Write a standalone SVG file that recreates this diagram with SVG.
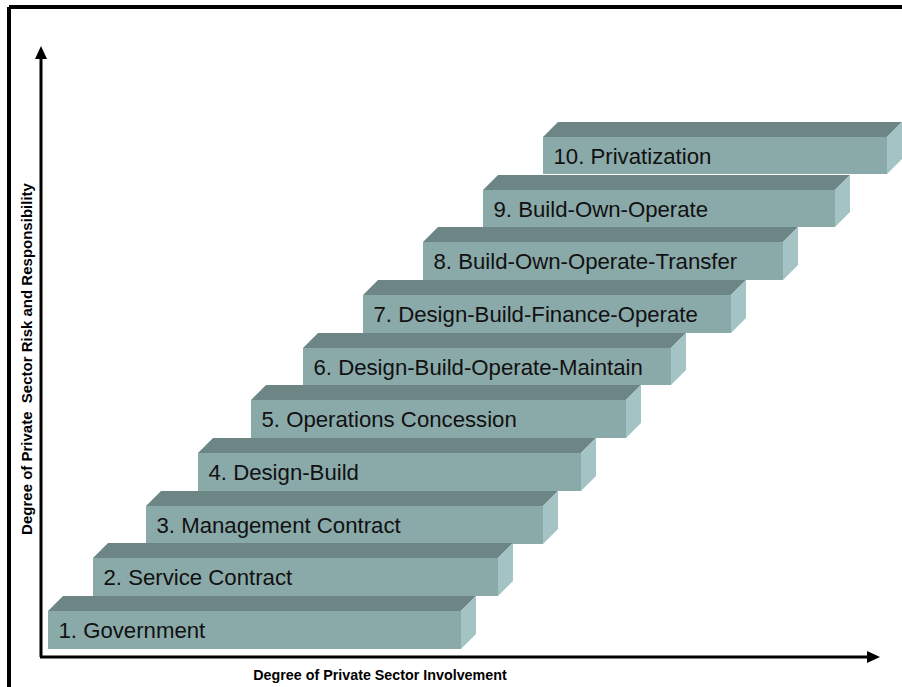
<svg xmlns="http://www.w3.org/2000/svg" width="902" height="687" viewBox="0 0 902 687">
<style>
.front{fill:#8AA9A9}
.top{fill:#6E8586}
.side{fill:#A3C3C5}
.lbl{font-family:"Liberation Sans",Arial,sans-serif;font-size:22.2px;fill:#111}
.ax{font-family:"Liberation Sans",Arial,sans-serif;font-weight:bold;fill:#000}
.axis{stroke:#000;stroke-width:3;fill:none}
</style>
<rect width="902" height="687" fill="#fff"/>
<g id="frame">
<path d="M9,7 H904 M9,7 V690" stroke="#000" stroke-width="4" fill="none"/>
</g>
<g id="connectors">
<line class="axis" x1="41" y1="657" x2="41" y2="57"/>
<polygon points="41,46 35,59 47,59" fill="#000"/>
<line class="axis" x1="40" y1="657" x2="869" y2="657"/>
<polygon points="880,657 867,651 867,663" fill="#000"/>
</g>
<g id="step10">
<polygon class="top" points="543,137 558,122 902,122 887,137"/>
<polygon class="side" points="887,137 902,122 902,159 887,174"/>
<rect class="front" x="543" y="137" width="344" height="37"/>
<text class="lbl" x="553.5" y="164">10. Privatization</text>
</g>
<g id="step9">
<polygon class="top" points="483,190 498,175 850,175 835,190"/>
<polygon class="side" points="835,190 850,175 850,212 835,227"/>
<rect class="front" x="483" y="190" width="352" height="37"/>
<text class="lbl" x="493.5" y="217">9. Build-Own-Operate</text>
</g>
<g id="step8">
<polygon class="top" points="423,242 438,227 798,227 783,242"/>
<polygon class="side" points="783,242 798,227 798,265 783,280"/>
<rect class="front" x="423" y="242" width="360" height="38"/>
<text class="lbl" x="433.5" y="269">8. Build-Own-Operate-Transfer</text>
</g>
<g id="step7">
<polygon class="top" points="363,295 378,280 746,280 731,295"/>
<polygon class="side" points="731,295 746,280 746,318 731,333"/>
<rect class="front" x="363" y="295" width="368" height="38"/>
<text class="lbl" x="373.5" y="322">7. Design-Build-Finance-Operate</text>
</g>
<g id="step6">
<polygon class="top" points="303,348 318,333 686,333 671,348"/>
<polygon class="side" points="671,348 686,333 686,370 671,385"/>
<rect class="front" x="303" y="348" width="368" height="37"/>
<text class="lbl" x="313.5" y="375">6. Design-Build-Operate-Maintain</text>
</g>
<g id="step5">
<polygon class="top" points="251,400 266,385 641,385 626,400"/>
<polygon class="side" points="626,400 641,385 641,423 626,438"/>
<rect class="front" x="251" y="400" width="375" height="38"/>
<text class="lbl" x="261.5" y="427">5. Operations Concession</text>
</g>
<g id="step4">
<polygon class="top" points="198,453 213,438 596,438 581,453"/>
<polygon class="side" points="581,453 596,438 596,476 581,491"/>
<rect class="front" x="198" y="453" width="383" height="38"/>
<text class="lbl" x="208.5" y="480">4. Design-Build</text>
</g>
<g id="step3">
<polygon class="top" points="146,506 161,491 558,491 543,506"/>
<polygon class="side" points="543,506 558,491 558,529 543,544"/>
<rect class="front" x="146" y="506" width="397" height="38"/>
<text class="lbl" x="156.5" y="533">3. Management Contract</text>
</g>
<g id="step2">
<polygon class="top" points="93,558 108,543 513,543 498,558"/>
<polygon class="side" points="498,558 513,543 513,581 498,596"/>
<rect class="front" x="93" y="558" width="405" height="38"/>
<text class="lbl" x="103.5" y="585">2. Service Contract</text>
</g>
<g id="step1">
<polygon class="top" points="48,611 63,596 476,596 461,611"/>
<polygon class="side" points="461,611 476,596 476,634 461,649"/>
<rect class="front" x="48" y="611" width="413" height="38"/>
<text class="lbl" x="58.5" y="638">1. Government</text>
</g>
<g id="axis-labels">
<text class="ax" x="380" y="680" font-size="14.3" text-anchor="middle">Degree of Private Sector Involvement</text>
<text class="ax" xml:space="preserve" font-size="15" text-anchor="middle" transform="translate(32,359) rotate(-90)">Degree of Private  Sector Risk and Responsibility</text>
</g>
</svg>
